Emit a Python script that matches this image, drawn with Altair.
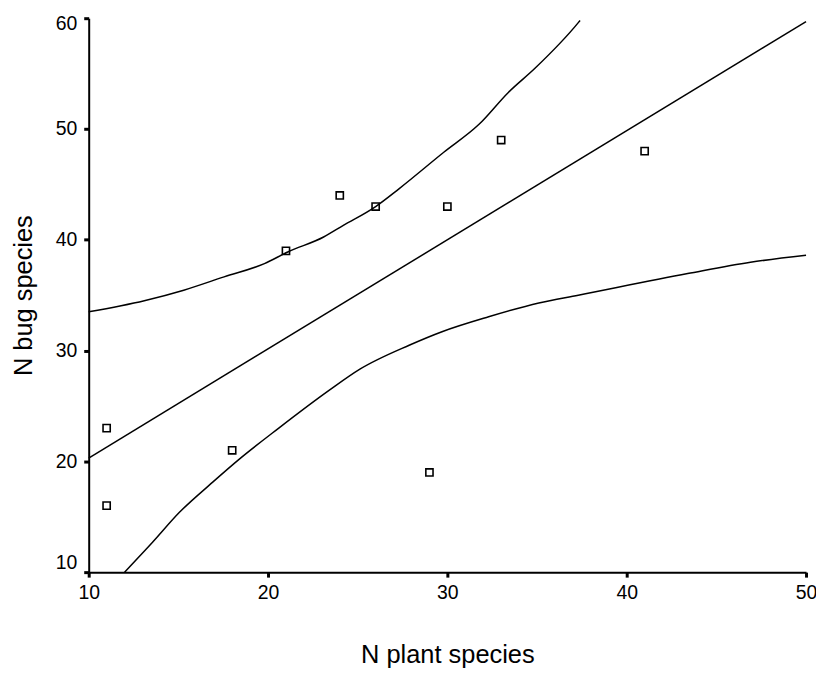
import altair as alt
import pandas as pd

# Observations
plant = [11, 11, 18, 21, 24, 26, 29, 30, 33, 41]
bugs = [23, 16, 21, 39, 44, 43, 19, 43, 49, 48]

# Fitted line
fit_x = [10, 50]
fit_y = [20.3, 59.7]

# Upper confidence curve
upper_x = [10, 13.1, 15.3, 17.55, 19.8, 21.1, 23.1, 24.2, 26.0, 27.3, 29.8, 31.75, 33.4, 34.9, 37.3, 37.4]
upper_y = [33.5, 34.5, 35.45, 36.65, 37.85, 38.9, 40.25, 41.3, 43.0, 44.6, 47.9, 50.4, 53.3, 55.5, 59.6, 59.8]

# Lower confidence curve
lower_x = [12.0, 13.56, 15.06, 16.9, 18.4, 20.6, 23.4, 25.1, 27.9, 29.7, 32.3, 35.1, 37.3, 43.4, 46.9, 50]
lower_y = [10.0, 12.7, 15.4, 18.1, 20.2, 23.0, 26.4, 28.3, 30.5, 31.7, 33.05, 34.3, 35.0, 36.95, 37.97, 38.6]

x_ticks = [10, 20, 30, 40, 50]
y_ticks = [10, 20, 30, 40, 50, 60]

FONT = "Liberation Sans, Arial, sans-serif"

pts = pd.DataFrame({"x": plant, "y": bugs})
fit = pd.DataFrame({"x": fit_x, "y": fit_y})
up = pd.DataFrame({"x": upper_x, "y": upper_y})
lo = pd.DataFrame({"x": lower_x, "y": lower_y})

xscale = alt.Scale(domain=[10, 50], nice=False, zero=False)
yscale = alt.Scale(domain=[10, 60], nice=False, zero=False)

common = dict(
    grid=False, domainColor="black", domainWidth=2,
    tickColor="black", tickSize=5, tickWidth=3,
    labelFont=FONT, labelFontSize=19.5, labelColor="black",
    titleFont=FONT, titleFontSize=25.5, titleFontWeight="normal", titleColor="black",
    titleBaseline="alphabetic", titleAlign="center",
)
xaxis = alt.Axis(values=x_ticks, title="N plant species", labelPadding=6,
                 labelFlush=False, titleX=360, titleY=91, **common)
yaxis = alt.Axis(values=y_ticks, title="N bug species", labelPadding=7,
                 labelFlush=True, labelOffset={"expr": "datum.value == 60 ? -4 : 0"},
                 titleX=-57, titleY=278, titleAngle=270, **common)

X = alt.X("x:Q", scale=xscale, axis=xaxis)
Y = alt.Y("y:Q", scale=yscale, axis=yaxis)

line_style = dict(color="black", strokeWidth=1.5)

fit_line = alt.Chart(fit).mark_line(**line_style).encode(x=X, y=Y)
up_line = alt.Chart(up).mark_line(interpolate="monotone", **line_style).encode(x=X, y=Y)
lo_line = alt.Chart(lo).mark_line(interpolate="monotone", **line_style).encode(x=X, y=Y)
points = alt.Chart(pts).mark_point(shape="square", filled=False, size=52,
                                   color="black", strokeWidth=1.6, opacity=1).encode(x=X, y=Y)

chart = alt.layer(fit_line, up_line, lo_line, points).properties(
    width=720, height=556,
    autosize=alt.AutoSizeParams(type="none"),
    padding={"left": 81, "top": 9, "right": 10, "bottom": 100},
).configure_view(stroke=None)

chart.save("out.html", embed_options={"renderer": "svg", "actions": False})
